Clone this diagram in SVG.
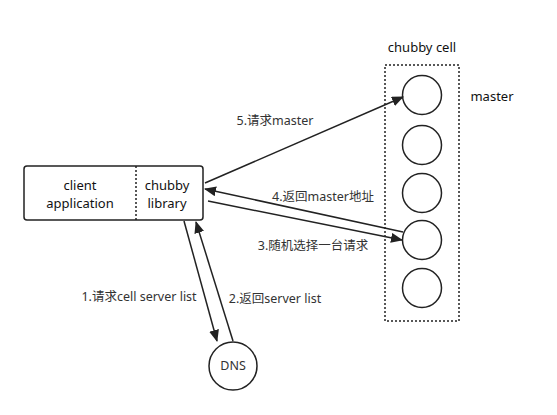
<svg xmlns="http://www.w3.org/2000/svg" width="557" height="415" viewBox="0 0 557 415">
<style>
text{font-family:"Noto Sans","Noto Sans CJK SC",sans-serif;font-size:12.5px;fill:#333;text-anchor:middle}
.n{fill:#111;font-size:13px}
.s{fill:none;stroke:#222;stroke-width:1.5}
.ln{stroke:#222;stroke-width:1.5;fill:none;marker-end:url(#ah)}
</style>
<defs>
<marker id="ah" markerWidth="12" markerHeight="10" refX="11" refY="5" orient="auto" markerUnits="userSpaceOnUse">
<path d="M0,0 L12,5 L0,10 Z" fill="#222"/>
</marker>
</defs>
<rect width="557" height="415" fill="#fff"/>
<g id="client">
<rect class="s" x="24" y="166" width="179" height="54" rx="3"/>
<line x1="136" y1="166" x2="136" y2="220" stroke="#222" stroke-width="1.5" stroke-dasharray="2,2"/>
<text class="n" x="80" y="190">client</text>
<text class="n" x="80" y="208">application</text>
<text class="n" x="167" y="190">chubby</text>
<text class="n" x="167" y="208">library</text>
</g>
<g id="cell">
<rect class="s" x="385" y="65" width="74" height="256" stroke-dasharray="2,2"/>
<text class="n" x="422" y="52">chubby cell</text>
</g>
<g id="m1"><circle class="s" cx="422" cy="95" r="19.5"/></g>
<g id="m2"><circle class="s" cx="422" cy="145" r="19.5"/></g>
<g id="m3"><circle class="s" cx="422" cy="193" r="19.5"/></g>
<g id="m4"><circle class="s" cx="422" cy="240" r="19.5"/></g>
<g id="m5"><circle class="s" cx="422" cy="288" r="19.5"/></g>
<g id="masterlabel"><text class="n" x="492" y="101">master</text></g>
<g id="dns"><circle class="s" cx="233" cy="366" r="24"/><text x="233" y="370">DNS</text></g>
<g id="connectors">
<line class="ln" x1="205" y1="183" x2="403" y2="97"/>
<line class="ln" x1="403" y1="232" x2="205" y2="189"/>
<line class="ln" x1="208" y1="201" x2="402" y2="240"/>
<line class="ln" x1="184" y1="221" x2="217" y2="341"/>
<line class="ln" x1="233" y1="341" x2="196" y2="222"/>
</g>
<g id="labels">
<text x="275" y="125">5.请求master</text>
<text x="323" y="201">4.返回master地址</text>
<text x="313" y="250">3.随机选择一台请求</text>
<text x="139" y="301">1.请求cell server list</text>
<text x="275" y="303">2.返回server list</text>
</g>
</svg>
